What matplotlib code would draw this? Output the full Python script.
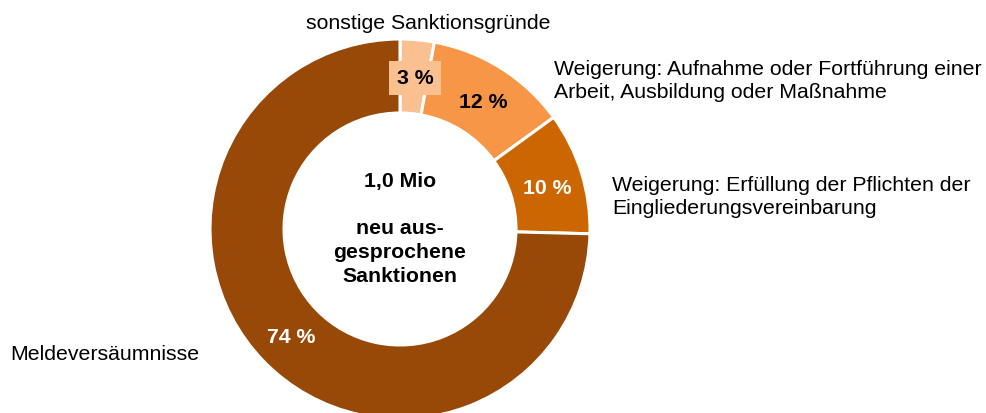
import matplotlib
matplotlib.use("Agg")
import matplotlib.pyplot as plt

plt.rcParams['font.family'] = ['Liberation Sans', 'DejaVu Sans']

# Anteile (im Uhrzeigersinn ab 12 Uhr)
categories = ["sonstige Sanktionsgründe",
              "Weigerung: Aufnahme oder Fortführung einer\nArbeit, Ausbildung oder Maßnahme",
              "Weigerung: Erfüllung der Pflichten der\nEingliederungsvereinbarung",
              "Meldeversäumnisse"]
shares = [2.9, 12.1, 10.4, 74.6]
pct_labels = ["3 %", "12 %", "10 %", "74 %"]
colors = ["#FAC090", "#F79646", "#CC6600", "#984807"]
center_text = "1,0 Mio\n\nneu aus-\ngesprochene\nSanktionen"

W, H = 986, 414
fig = plt.figure(figsize=(W / 100, H / 100), dpi=100)
ax = fig.add_axes([0, 0, 1, 1])

cx, cy = 400, H - 230
wedges, _ = ax.pie(shares, colors=colors, startangle=90, counterclock=False,
                   radius=190, center=(cx, cy),
                   wedgeprops=dict(width=74, edgecolor='white', linewidth=2.2))
ax.set_xlim(0, W)
ax.set_ylim(0, H)
ax.set_aspect('equal')
ax.axis('off')

fs = 15.3
# Prozentwerte in den Ringsegmenten
pct_pos = [(415, 79), (483, 103), (547, 188), (291, 338)]
pct_col = ["black", "black", "white", "white"]
for i, (x, y) in enumerate(pct_pos):
    kw = {}
    if i == 0:
        kw['bbox'] = dict(boxstyle='square,pad=0.35', fc=colors[0], ec='none')
    ax.text(x, H - y, pct_labels[i], ha='center', va='center', fontsize=fs,
            fontweight='bold', color=pct_col[i], **kw)

# Kategorien
ax.text(428, H - 23, categories[0], ha='center', va='center', fontsize=fs)
ax.text(554, H - 81, categories[1], ha='left', va='center', fontsize=fs,
        linespacing=1.33)
ax.text(612, H - 197, categories[2], ha='left', va='center', fontsize=fs,
        linespacing=1.25)
ax.text(10, H - 355, categories[3], ha='left', va='center', fontsize=fs)

# Mitte
ax.text(cx, H - 229, center_text, ha='center', va='center', fontsize=fs,
        fontweight='bold', linespacing=1.3)

fig.savefig("out.png", dpi=100)
